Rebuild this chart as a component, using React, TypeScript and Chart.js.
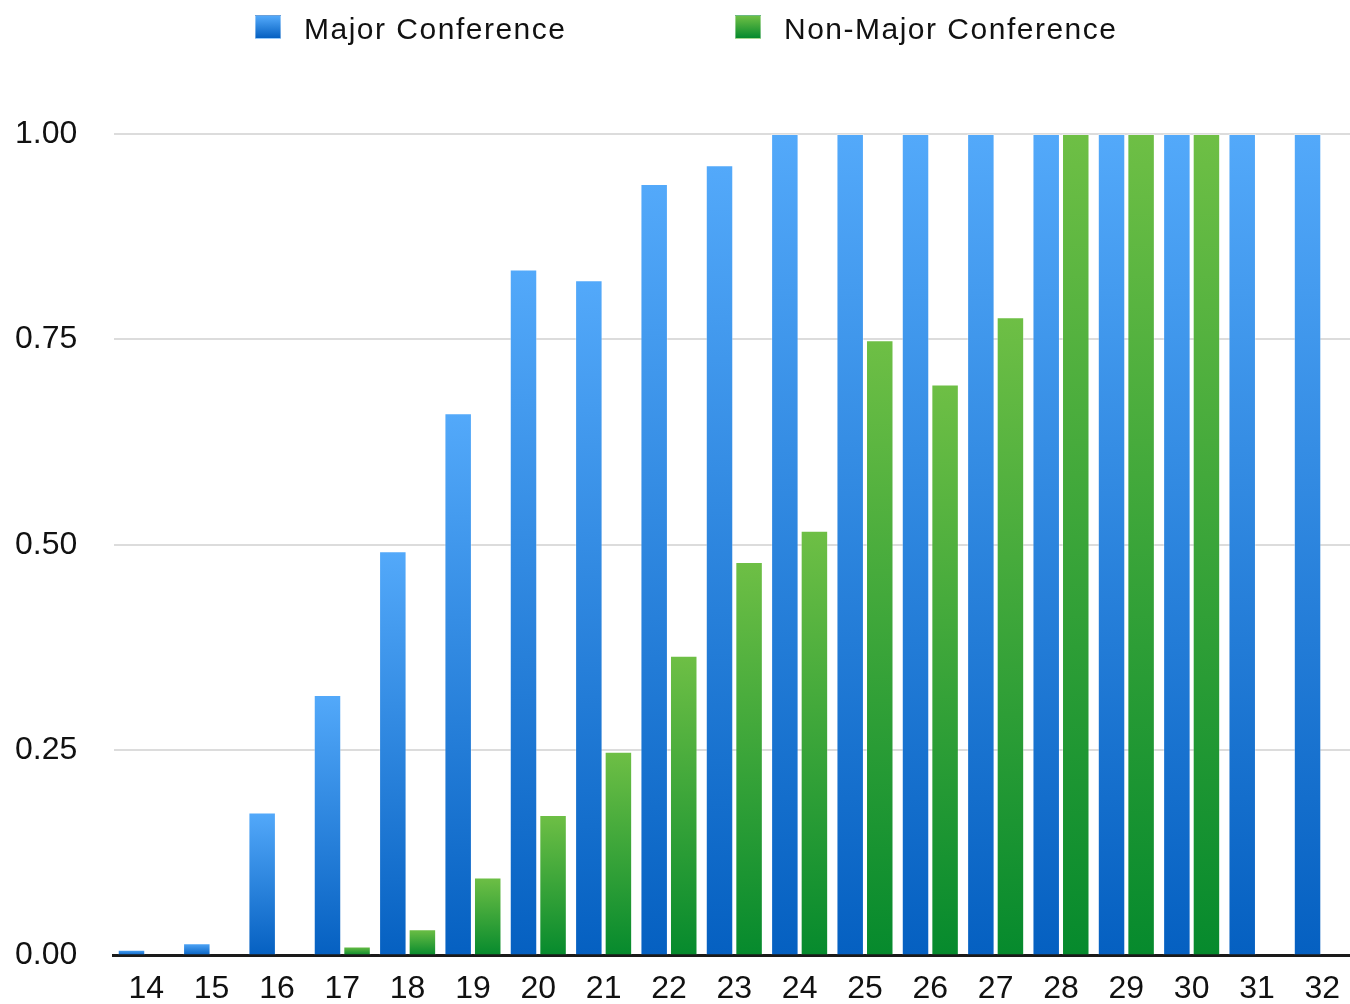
import React, { useEffect, useRef } from "react";
import { Chart, registerables } from "chart.js";

Chart.register(...registerables);

const categories = ["14", "15", "16", "17", "18", "19", "20", "21", "22", "23", "24", "25", "26", "27", "28", "29", "30", "31", "32"];
const majorConference = [0.007, 0.015, 0.174, 0.317, 0.492, 0.66, 0.835, 0.822, 0.939, 0.962, 1, 1, 1, 1, 1, 1, 1, 1, 1];
const nonMajorConference = [null, null, null, 0.011, 0.032, 0.095, 0.171, 0.248, 0.365, 0.479, 0.517, 0.749, 0.695, 0.777, 1, 1, 1, null, null];
const yTickValues = [0, 0.25, 0.5, 0.75, 1];
const seriesNames = ["Major Conference", "Non-Major Conference"];

const BLUE_TOP = "#53a9fa";
const BLUE_BOTTOM = "#0560c1";
const GREEN_TOP = "#6ebf45";
const GREEN_BOTTOM = "#068a2d";
const FONT = "'Liberation Sans', Arial, Helvetica, sans-serif";

function barGradient(top: string, bottom: string) {
  return (ctx: any) => {
    const chart = ctx.chart;
    const y = chart.scales && chart.scales.y;
    const v = ctx.raw;
    if (!y || v == null || !chart.chartArea) return bottom;
    const y0 = y.getPixelForValue(0);
    const y1 = y.getPixelForValue(v);
    if (!isFinite(y0) || !isFinite(y1) || Math.abs(y0 - y1) < 0.5) return bottom;
    const g = chart.ctx.createLinearGradient(0, y1, 0, y0);
    g.addColorStop(0, top);
    g.addColorStop(1, bottom);
    return g;
  };
}

export default function App() {
  const canvasRef = useRef<HTMLCanvasElement | null>(null);

  useEffect(() => {
    if (!canvasRef.current) return;
    const chart = new Chart(canvasRef.current, {
      type: "bar",
      data: {
        labels: categories,
        datasets: [
          {
            label: seriesNames[0],
            data: majorConference,
            backgroundColor: barGradient(BLUE_TOP, BLUE_BOTTOM),
            borderColor: "rgba(255,255,255,0.35)",
            borderWidth: 1,
            categoryPercentage: 0.905,
            barPercentage: 0.93,
          },
          {
            label: seriesNames[1],
            data: nonMajorConference,
            backgroundColor: barGradient(GREEN_TOP, GREEN_BOTTOM),
            borderColor: "rgba(255,255,255,0.35)",
            borderWidth: 1,
            categoryPercentage: 0.905,
            barPercentage: 0.93,
          },
        ],
      },
      options: {
        responsive: false,
        animation: false,
        devicePixelRatio: 1,
        layout: { padding: { top: 134, right: 1, left: 15, bottom: 0 } },
        plugins: {
          legend: { display: false },
          tooltip: { enabled: false },
        },
        scales: {
          x: {
            grid: { display: false, drawTicks: false },
            border: { display: true, color: "#1a1a1a", width: 3 },
            ticks: {
              color: "#111111",
              font: { family: FONT, size: 32 },
              padding: 14,
              maxRotation: 0,
              autoSkip: false,
            },
            afterFit: (scale: any) => {
              scale.height = 48.5;
            },
          },
          y: {
            min: 0,
            max: 1,
            afterBuildTicks: (scale: any) => {
              scale.ticks = yTickValues.map((v) => ({ value: v }));
            },
            grid: {
              drawTicks: false,
              color: (ctx: any) => (ctx.tick && ctx.tick.value === 0 ? "rgba(0,0,0,0)" : "#dcdcdc"),
              lineWidth: 2,
            },
            border: { display: false },
            ticks: {
              color: "#111111",
              font: { family: FONT, size: 32 },
              padding: 0,
              crossAlign: "far",
              callback: (v: any) => Number(v).toFixed(2),
            },
            afterFit: (scale: any) => {
              scale.width = 98.6;
            },
          },
        },
      },
    });
    return () => chart.destroy();
  }, []);

  const legendText: React.CSSProperties = {
    position: "absolute",
    top: 14,
    fontFamily: FONT,
    fontSize: 30,
    lineHeight: "30px",
    letterSpacing: "1.5px",
    color: "#111111",
    whiteSpace: "nowrap",
  };
  const box = (top: string, bottom: string, left: number): React.CSSProperties => ({
    position: "absolute",
    left,
    top: 15,
    width: 26,
    height: 24,
    boxSizing: "border-box",
    border: "1px solid rgba(255,255,255,0.4)",
    background: `linear-gradient(to bottom, ${top}, ${bottom})`,
  });

  return (
    <div
      style={{
        position: "absolute",
        left: 0,
        top: 0,
        width: 1350,
        height: 1004,
        overflow: "hidden",
        background: "#ffffff",
      }}
    >
      <canvas
        ref={canvasRef}
        width={1356}
        height={1004}
        style={{ position: "absolute", left: 0, top: 0, width: 1356, height: 1004 }}
      />
      <div style={box(BLUE_TOP, BLUE_BOTTOM, 255)} />
      <div style={{ ...legendText, left: 304 }}>{seriesNames[0]}</div>
      <div style={box(GREEN_TOP, GREEN_BOTTOM, 735)} />
      <div style={{ ...legendText, left: 784 }}>{seriesNames[1]}</div>
    </div>
  );
}
